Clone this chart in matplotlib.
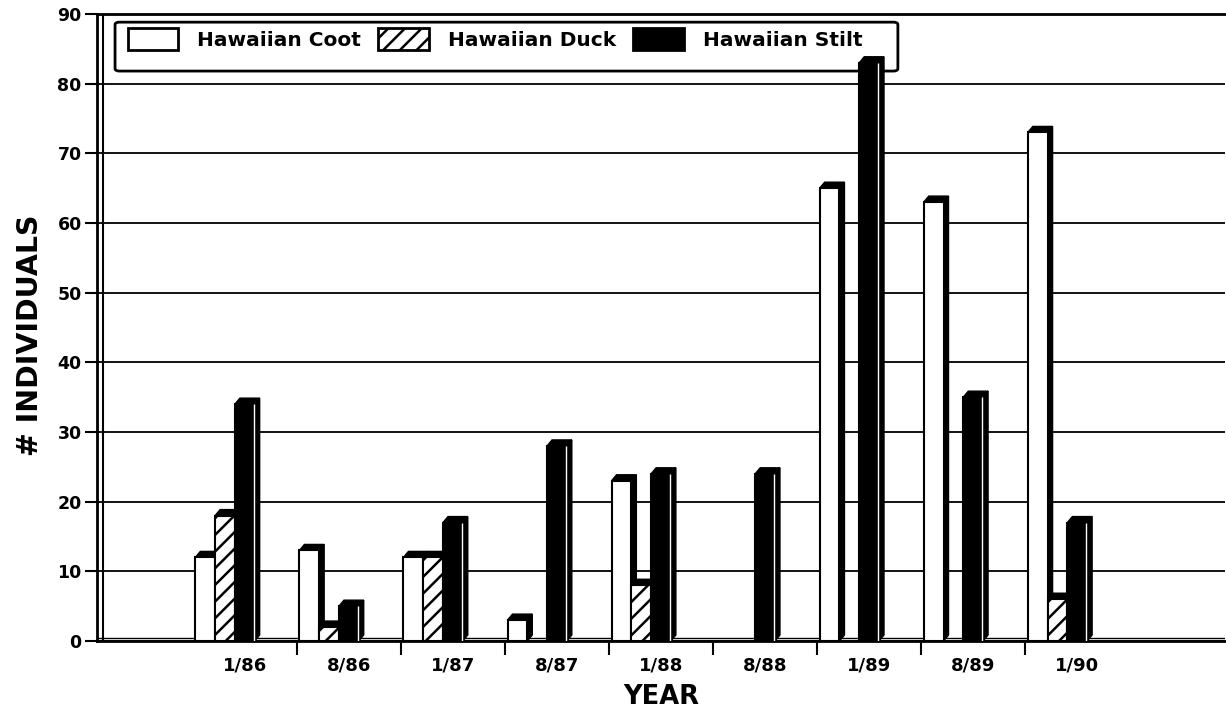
import numpy as np
import matplotlib.pyplot as plt
from matplotlib.patches import Polygon, Patch, FancyBboxPatch

# survey dates and counts per species
years = ['1/86', '8/86', '1/87', '8/87', '1/88', '8/88', '1/89', '8/89', '1/90']
coot = [12, 13, 12, 3, 23, 0, 65, 63, 73]
duck = [18, 2, 12, 0, 8, 0, 0, 0, 6]
stilt = [34, 5, 17, 28, 24, 24, 83, 35, 17]

plt.rcParams['font.family'] = 'DejaVu Sans'
plt.rcParams['font.weight'] = 'bold'
plt.rcParams['hatch.linewidth'] = 1.8

fig = plt.figure(figsize=(12.26, 7.15), dpi=100)
ax = fig.add_axes([97 / 1226, 1 - 641 / 715, 1128 / 1226, 627 / 715])

x = np.arange(1, len(years) + 1)
x0, x1 = -0.42, 10.42
ax.set_xlim(x0, x1)
ax.set_ylim(0, 90)

# bar width and 3d depth (in data units)
w = 0.19
dx = 5 * (x1 - x0) / 1128
dy = 6 * 90 / 627

series = [
    (coot, 'white', '', 'Hawaiian Coot'),
    (duck, 'white', '//', 'Hawaiian Duck'),
    (stilt, 'black', '', 'Hawaiian Stilt'),
]

for i, (vals, fc, hatch, label) in enumerate(series):
    pos = x + (i - 2) * w
    for xc, v in zip(pos, vals):
        if v == 0:
            continue
        xl = xc - w / 2
        side = Polygon([(xl + w, 0), (xl + w + dx, dy), (xl + w + dx, v + dy), (xl + w, v)],
                       closed=True, fc='black', ec='black', lw=1, zorder=3 + 2 * i)
        top = Polygon([(xl, v), (xl + dx, v + dy), (xl + w + dx, v + dy), (xl + w, v)],
                      closed=True, fc='black', ec='black', lw=1, zorder=3 + 2 * i)
        ax.add_patch(side)
        ax.add_patch(top)
    vals_arr = np.array(vals)
    ax.bar(pos[vals_arr > 0], vals_arr[vals_arr > 0], width=w, color=fc, hatch=hatch,
           edgecolor='black', linewidth=1.5, zorder=4 + 2 * i)
    if fc == 'black':
        ax.vlines(pos[vals_arr > 0] + w / 2 - 0.008, 0, vals_arr[vals_arr > 0],
                  color='white', lw=1, zorder=5 + 2 * i)

# grid, walls and floor
ax.yaxis.grid(True, color='black', lw=1.3)
ax.set_axisbelow(True)
ax.axvline(x0 + 6 * (x1 - x0) / 1128, color='black', lw=1.5, zorder=1)
ax.axhline(dy * 0.5, color='black', lw=1, zorder=1)
ax.spines['right'].set_visible(False)
for s in ['left', 'top', 'bottom']:
    ax.spines[s].set_linewidth(2)

ax.set_yticks(range(0, 91, 10))
ax.tick_params(axis='y', length=9, width=1.5, pad=2, labelsize=12.5)
ax.set_xticks(np.arange(1.5, 9.5, 1))
ax.set_xticklabels([])
ax.set_xticks(x, minor=True)
ax.set_xticklabels(years, minor=True)
ax.tick_params(axis='x', which='major', length=10, width=1.5)
ax.tick_params(axis='x', which='minor', length=0, pad=11, labelsize=13)

fig.text(30 / 1226, 1 - 335 / 715, '# INDIVIDUALS', rotation=90,
         ha='center', va='center', fontsize=20.5, fontweight='bold')
fig.text(661 / 1226, 1 - 697 / 715, 'YEAR', ha='center', va='center',
         fontsize=18.5, fontweight='bold')

# legend
frame = FancyBboxPatch((0.016, 0.909), 0.694, 0.078, transform=ax.transAxes,
                       boxstyle='round,pad=0,rounding_size=0.004',
                       fc='white', ec='black', lw=2, zorder=2)
ax.add_patch(frame)
handles = [Patch(fc='white', ec='black', lw=2, label='Hawaiian Coot'),
           Patch(fc='white', ec='black', hatch='//', lw=2, label='Hawaiian Duck'),
           Patch(fc='black', ec='black', lw=2, label='Hawaiian Stilt')]
leg = ax.legend(handles=handles, loc='upper left', bbox_to_anchor=(0.0275, 0.977),
                ncol=3, frameon=False, borderpad=0, borderaxespad=0,
                handlelength=2.5, handleheight=1.3, handletextpad=0.95,
                columnspacing=0.85, prop={'size': 14.5, 'weight': 'bold'})
leg.set_zorder(2.5)

fig.savefig('out.png', dpi=100)
